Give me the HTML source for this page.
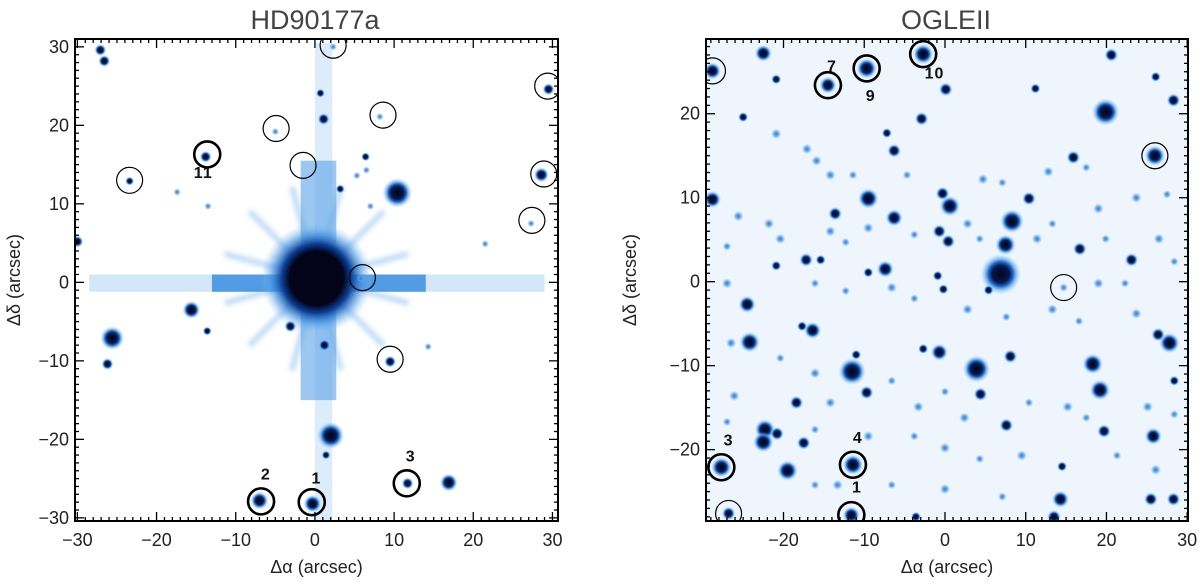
<!DOCTYPE html>
<html><head><meta charset="utf-8"><style>
body{margin:0;background:#fff;}
svg{display:block;font-family:"Liberation Sans",sans-serif;}
</style></head><body>
<svg id="fig" width="1200" height="583" viewBox="0 0 1200 583">
<defs>
<radialGradient id="star">
<stop offset="0" stop-color="#03031a"/><stop offset="0.42" stop-color="#06184a"/>
<stop offset="0.6" stop-color="#1a66c8"/><stop offset="0.8" stop-color="#5aa6e8" stop-opacity="0.5"/>
<stop offset="1" stop-color="#9ccaf2" stop-opacity="0"/></radialGradient>
<radialGradient id="faint">
<stop offset="0" stop-color="#2a78d4"/><stop offset="0.5" stop-color="#4c9ae6" stop-opacity="0.7"/>
<stop offset="1" stop-color="#9ccaf2" stop-opacity="0"/></radialGradient>
<radialGradient id="halo">
<stop offset="0" stop-color="#03031a"/><stop offset="0.48" stop-color="#03031a"/>
<stop offset="0.62" stop-color="#0b3f95"/><stop offset="0.8" stop-color="#3d8fe0" stop-opacity="0.6"/>
<stop offset="1" stop-color="#9ccaf2" stop-opacity="0"/></radialGradient>
<filter id="blur"><feGaussianBlur stdDeviation="2.5"/></filter>
<clipPath id="clipL"><rect x="75" y="39" width="483" height="482"/></clipPath>
<clipPath id="clipR"><rect x="706" y="39" width="482" height="482"/></clipPath>
</defs>
<text x="315" y="29" font-size="27" fill="#444" text-anchor="middle">HD90177a</text>
<text x="946" y="29" font-size="27" fill="#444" text-anchor="middle">OGLEII</text>
<g id="L" clip-path="url(#clipL)"></g>
<g id="R" clip-path="url(#clipR)"></g>
<g id="axes"></g>
</svg>
<script>
// Left panel stars: x, y (arcsec), size
const leftX=[-27.1,-26.6,0.7,1.1,29.5,8.2,-5.0,-13.8,6.4,6.5,5.3,3.2,10.4,28.6,-23.4,-17.4,-13.5,7.0,27.3,21.5,-30,-15.6,-3.1,-13.6,-25.6,-26.2,1.2,9.5,14.3,2.0,1.4,11.7,16.9,-7.0,-0.3,5.8,2.3];
const leftY=[29.6,28.2,24.1,20.8,24.6,21.1,19.2,16.0,16.0,14.3,13.6,11.9,11.4,13.7,12.9,11.5,9.7,9.7,7.5,4.9,5.2,-3.5,-5.6,-6.2,-7.1,-10.4,-8.0,-10.1,-8.2,-19.5,-22.0,-25.6,-25.5,-27.8,-28.2,0.5,30.0];
const leftS=[2,2,1.5,2,2,1,1,2,1.5,1,1,1.5,5,2.5,1.5,1,1,1,1,1,2,3,2,1.5,4,2,2,2,1,4.5,1.5,2,3,3,3,1,1];
const leftThinX=[2.3,29.4,8.6,-4.9,-1.5,-23.4,28.9,27.4,6.0,9.5];
const leftThinY=[30.2,25.0,21.3,19.6,14.9,13.0,13.8,7.9,0.6,-9.8];
const leftThickX=[-13.6,-6.8,-0.4,11.6];
const leftThickY=[16.3,-27.9,-28.0,-25.6];
const leftLabels=["11","2","1","3"];
const leftLabX=[-14.1,-6.2,0.2,12.1];
const leftLabY=[13.3,-25.1,-25.6,-22.8];
// Right panel stars
const rightX=[-22.5,-28.8,-14.5,-9.7,-2.7,0.1,-20.9,-25,-2.9,19.9,20.6,11.2,26.1,28.3,26.0,15.9,-6.3,-7.2,-9.5,-13.6,-6.3,-0.3,0.6,10.4,8.3,7.5,6.9,-0.7,0.4,-0.9,-0.2,5.4,16.7,23.1,14.7,-7.4,-9.5,-17.2,-15.4,-20.9,-24.5,-24.2,-28.8,-16.4,-17.7,-11.5,-11.0,-9.7,-0.7,-2.7,3.9,4.4,8.1,7.6,18.3,19.2,19.7,27.8,26.4,28.4,25.8,14.5,14.3,25.5,28.3,-22.3,-22.5,-20.8,-17.5,-18.4,-19.5,-27.7,-26.8,-11.4,-11.6,13.5,-3.6,
-20.9,-17.1,-15.9,-14.2,-11.4,-4.7,4.7,7.1,12.8,17.5,23.7,27.5,-25.6,-21.8,-20.4,-27,-14.2,-12.3,-9.5,-3.8,2.8,4.3,11.4,13.3,19,19.9,26.5,28.4,19,22.3,-27,-16.1,-12.3,-6.6,-3.8,2.8,7.6,13.3,16.6,23.7,-26.5,-20.4,-16.1,-6.6,-3.3,0,2.4,10.4,15.2,17.5,25.1,28.4,-26.1,-27,-14.2,-16.1,-9.5,-3.8,0,4.3,9.5,21.3,26.1,-16.1,-13.3,-6.6,0,7.1,19,-26.1];
const rightY=[27.2,25.1,23.4,25.4,27.1,22.9,24.1,19.6,19.4,20.2,27.0,23.0,24.4,21.6,15.0,14.8,15.6,17.7,9.9,8.1,7.6,10.5,9.0,9.9,7.2,4.4,0.9,6.0,4.8,0.7,-0.9,-1.0,3.9,2.6,-0.7,1.5,1.1,2.6,2.6,1.9,-2.7,-7.2,9.8,-5.8,-5.3,-10.7,-8.7,-13.2,-8.4,-8.0,-10.4,-13.4,-8.9,-17.1,-9.8,-12.9,-17.8,-7.3,-6.3,-11.8,-18.4,-22,-25.9,-25.9,-25.9,-17.6,-19.1,-18.1,-19.2,-14.4,-22.5,-22.1,-27.6,-21.8,-27.8,-28,-28,
17.6,15.8,14.4,12.7,12.7,12.7,12.2,11.8,13.1,13.6,10,10.4,7.8,6.9,5.1,4.2,6,4.7,6.4,5.6,6.9,5.1,5.1,6.9,8.7,5.1,5.1,2.4,-0.2,-0.2,-0.2,-0.2,-1.1,-0.7,-2,-3.3,-4.2,-3.3,-4.7,-3.8,-7.3,-9.1,-10.9,-11.8,-14.9,-13.1,-16.2,-14.4,-14.9,-16.2,-14.9,-15.8,-13.6,-16.7,-14.4,-17.6,-18.4,-18.4,-19.8,-21.1,-20.7,-20.7,-22.4,-24.2,-24.2,-24.2,-24.7,-25.6,-24.2,-24.7];
const rightS=[2.5,2.5,2.5,3,3,2,1.5,1.5,2,4,2,1.5,1.5,2,3,2,2,1.5,3,2,2.5,2,3,2,3.5,3,6,2,2,1.5,1.5,1.5,2,2,1,2.5,1.5,2,1.5,1.5,2.5,3,2.5,2.5,1.5,4,1.5,2,2.5,1.5,4,2,2,2,3,3,2,3,2,1.5,2.5,1.5,2.5,2,2,3,3,2,2,2,3,3,2,3,2.5,2,1.5,
1.2,1.2,1.2,1.2,1,1,1.2,1,1.2,1,1.2,1,1.2,1.2,1.2,1,1.2,1,1.2,1,1.2,1,1.2,1,1.2,1,1.2,1,1.2,1,1.2,1,1,1.2,1,1.2,1,1.2,1,1.2,1.2,1,1.2,1,1.2,1,1.2,1,1.2,1,1.2,1,1.2,1,1.2,1,1.2,1,1.2,1,1.2,1,1.2,1,1.2,1,1.2,1];
const rightThinX=[-28.8,26.0,14.7,-26.8];
const rightThinY=[25.1,15.0,-0.7,-27.6];
const rightThickX=[-14.5,-9.7,-2.7,-27.7,-11.4,-11.6];
const rightThickY=[23.4,25.4,27.1,-22.1,-21.8,-27.8];
const rightLabels=["7","9","10","3","4","1"];
const rightLabX=[-14.0,-9.2,-1.3,-26.8,-10.8,-10.9];
const rightLabY=[25.0,21.5,24.2,-19.5,-19.2,-25.1];
const xTicksL=[-30,-20,-10,0,10,20,30], yTicksL=[-30,-20,-10,0,10,20,30];
const xTicksR=[-20,-10,0,10,20,30], yTicksR=[-20,-10,0,10,20];

const NS="http://www.w3.org/2000/svg";
function mk(tag,attrs,parent){const e=document.createElementNS(NS,tag);for(const k in attrs)e.setAttribute(k,attrs[k]);parent.appendChild(e);return e;}
const P={L:{x0:75,x1:558,y0:39,y1:521,xmin:-30.3,xmax:30.7,ymin:-30.4,ymax:31.0},
         R:{x0:706,x1:1188,y0:39,y1:521,xmin:-29.6,xmax:30.1,ymin:-28.5,ymax:28.9}};
function sx(p,v){return p.x0+(v-p.xmin)/(p.xmax-p.xmin)*(p.x1-p.x0);}
function sy(p,v){return p.y1-(v-p.ymin)/(p.ymax-p.ymin)*(p.y1-p.y0);}
const gL=document.getElementById('L'), gR=document.getElementById('R'), gA=document.getElementById('axes');
const pl=P.L, pr=P.R;
mk('rect',{x:pl.x0,y:pl.y0,width:pl.x1-pl.x0,height:pl.y1-pl.y0,fill:'#ffffff'},gL);
mk('rect',{x:pr.x0,y:pr.y0,width:pr.x1-pr.x0,height:pr.y1-pr.y0,fill:'#eef5fd'},gR);
// left diffraction structure
const cx=sx(pl,0.2), cy=sy(pl,0.5);
const sp=mk('g',{filter:'url(#blur)'},gL);
for(let a=15;a<360;a+=30){const r=a*Math.PI/180;
 const ln=mk('line',{x1:cx,y1:cy,x2:cx+Math.cos(r)*95,y2:cy+Math.sin(r)*95,stroke:'#3d8fe0','stroke-width':6,'stroke-opacity':0.3},sp);
 
 }
mk('rect',{x:sx(pl,-28.5),y:sy(pl,1.0),width:sx(pl,29)-sx(pl,-28.5),height:sy(pl,-1.2)-sy(pl,1.0),fill:'#a8d0f2','fill-opacity':0.5},gL);
mk('rect',{x:sx(pl,-13),y:sy(pl,1.0),width:sx(pl,14)-sx(pl,-13),height:sy(pl,-1.2)-sy(pl,1.0),fill:'#3a8ee0','fill-opacity':0.85},gL);
mk('rect',{x:sx(pl,0),y:sy(pl,30.5),width:sx(pl,2.2)-sx(pl,0),height:sy(pl,-30.5)-sy(pl,30.5),fill:'#a8d0f2','fill-opacity':0.4},gL);
mk('rect',{x:sx(pl,-1.8),y:sy(pl,15.5),width:sx(pl,2.7)-sx(pl,-1.8),height:sy(pl,-15)-sy(pl,15.5),fill:'#5aa2e6','fill-opacity':0.6},gL);
const bc=mk('circle',{cx:cx,cy:cy,r:56,fill:'url(#halo)'},gL);


function stars(g,p,X,Y,S,k){for(let i=0;i<X.length;i++){const small=S[i]<=1.2;
 const c=mk('circle',{cx:sx(p,X[i]),cy:sy(p,Y[i]),r:S[i]*k*(small?1.3:1),fill:small?'url(#faint)':'url(#star)'},g);
 
 }}
stars(gL,pl,leftX,leftY,leftS,3.0);
stars(gR,pr,rightX,rightY,rightS,3.4);
function circles(g,p,X,Y,w,nm){for(let i=0;i<X.length;i++){const c=mk('circle',{cx:sx(p,X[i]),cy:sy(p,Y[i]),r:13,fill:'none',stroke:'#000','stroke-width':w},g);
 
 }}
circles(gL,pl,leftThinX,leftThinY,1.2,'marker-circle');
circles(gL,pl,leftThickX,leftThickY,2.6,'reference-star-circle');
circles(gR,pr,rightThinX,rightThinY,1.2,'marker-circle');
circles(gR,pr,rightThickX,rightThickY,2.6,'reference-star-circle');
function labels(g,p,L,X,Y){for(let i=0;i<L.length;i++){const t=mk('text',{x:sx(p,X[i]),y:sy(p,Y[i]),'font-size':16,'font-weight':'bold','text-anchor':'middle',fill:'#111','letter-spacing':'1'},g);t.textContent=L[i];
 
 }}
labels(gL,pl,leftLabels,leftLabX,leftLabY);
labels(gR,pr,rightLabels,rightLabX,rightLabY);
function axes(p,xt,yt,side){
 const f=mk('rect',{x:p.x0,y:p.y0,width:p.x1-p.x0,height:p.y1-p.y0,fill:'none',stroke:'#000','stroke-width':2},gA);
 
 
 for(let v=Math.ceil(p.xmin);v<=p.xmax;v++){const L=v%10===0?9:4,x=sx(p,v);
  mk('line',{x1:x,y1:p.y1,x2:x,y2:p.y1-L,stroke:'#000','stroke-width':1.3},gA);
  mk('line',{x1:x,y1:p.y0,x2:x,y2:p.y0+L,stroke:'#000','stroke-width':1.3},gA);}
 for(let v=Math.ceil(p.ymin);v<=p.ymax;v++){const L=v%10===0?9:4,y=sy(p,v);
  mk('line',{x1:p.x0,y1:y,x2:p.x0+L,y2:y,stroke:'#000','stroke-width':1.3},gA);
  mk('line',{x1:p.x1,y1:y,x2:p.x1-L,y2:y,stroke:'#000','stroke-width':1.3},gA);}
 xt.forEach(v=>{const t=mk('text',{x:sx(p,v),y:p.y1+25,'font-size':18,'text-anchor':'middle',fill:'#222'},gA);t.textContent=(v<0?'\u2212':'')+Math.abs(v);
  
  });
 yt.forEach(v=>{const t=mk('text',{x:p.x0-6,y:sy(p,v)+6,'font-size':18,'text-anchor':'end',fill:'#222'},gA);t.textContent=(v<0?'\u2212':'')+Math.abs(v);
  
  });
 const xa=mk('text',{x:(p.x0+p.x1)/2,y:p.y1+52,'font-size':18,'text-anchor':'middle',fill:'#222'},gA);xa.textContent='\u0394\u03b1 (arcsec)';
 
 
 const yx=side==='left'?20:p.x0-70;
 const ya=mk('text',{x:yx,y:(p.y0+p.y1)/2,'font-size':18,'text-anchor':'middle',fill:'#222',transform:'rotate(-90 '+yx+' '+(p.y0+p.y1)/2+')'},gA);ya.textContent='\u0394\u03b4 (arcsec)';
 
 }
axes(pl,xTicksL,yTicksL,'left');
axes(pr,xTicksR,yTicksR,'right');
</script>
</body></html>
